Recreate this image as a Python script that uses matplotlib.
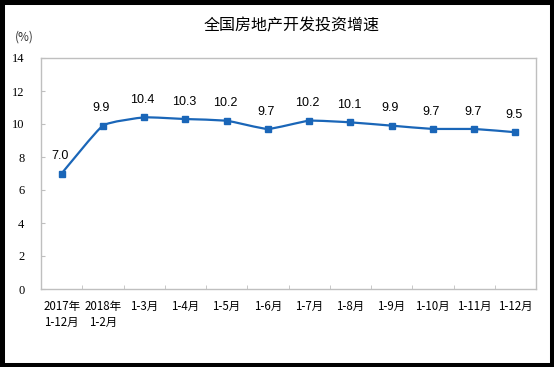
"""
plot.py — national real-estate development investment growth, cumulative YoY.

Renders out.png (554x367) as a single lightly smoothed line chart with labels.
"""
import matplotlib
matplotlib.use("Agg")
import matplotlib.pyplot as plt
from matplotlib.path import Path
from matplotlib.patches import PathPatch, Rectangle

# ── data ────────────────────────────────────────────────────────────────
PERIODS = [
    "2017年\n1-12月", "2018年\n1-2月", "1-3月", "1-4月", "1-5月", "1-6月",
    "1-7月", "1-8月", "1-9月", "1-10月", "1-11月", "1-12月",
]
GROWTH = [7.0, 9.9, 10.4, 10.3, 10.2, 9.7, 10.2, 10.1, 9.9, 9.7, 9.7, 9.5]
Y_TICKS = [0, 2, 4, 6, 8, 10, 12, 14]

TITLE = "全国房地产开发投资增速"
UNIT = "(%)"

LINE_COLOR = "#1a66b8"
AXIS_GRAY = "#bfbfbf"
CJK = ["Noto Sans CJK SC", "DejaVu Sans"]
TENSION = 1 / 14   # mild smoothing, Catmull-Rom style


def smooth_path(xs, ys):
    """Lightly smoothed line: Catmull-Rom segments as cubic Beziers."""
    pts = list(zip(xs, ys))
    verts = [pts[0]]
    codes = [Path.MOVETO]
    n = len(pts)
    for i in range(n - 1):
        p0 = pts[i - 1] if i > 0 else pts[i]
        p1, p2 = pts[i], pts[i + 1]
        p3 = pts[i + 2] if i + 2 < n else pts[i + 1]
        c1 = (p1[0] + (p2[0] - p0[0]) * TENSION,
              p1[1] + (p2[1] - p0[1]) * TENSION)
        c2 = (p2[0] - (p3[0] - p1[0]) * TENSION,
              p2[1] - (p3[1] - p1[1]) * TENSION)
        verts += [c1, c2, p2]
        codes += [Path.CURVE4] * 3
    return Path(verts, codes)


fig = plt.figure(figsize=(5.54, 3.67), dpi=100)
fig.patch.set_facecolor("white")
W, H = 554, 367
ax = fig.add_axes([41 / W, (H - 289) / H, (536 - 41) / W, (289 - 58) / H])

x = list(range(len(PERIODS)))

# line + square markers
ax.add_patch(PathPatch(smooth_path(x, GROWTH), fill=False,
                       edgecolor=LINE_COLOR, linewidth=1.6, zorder=3))
ax.plot(x, GROWTH, linestyle="none", marker="s", markersize=5,
        color=LINE_COLOR, zorder=4)

for xi, v in zip(x, GROWTH):
    ax.annotate(f"{v:.1f}", (xi, v), xytext=(-1, 12.5),
                textcoords="offset points", ha="center", va="center",
                fontsize=9, family="Liberation Sans", color="black")

ax.set_xlim(-0.5, len(PERIODS) - 0.5)
ax.set_ylim(0, 14)
ax.set_yticks(Y_TICKS)
ax.set_yticklabels([str(t) for t in Y_TICKS], family="Liberation Serif",
                   fontsize=9)

ax.set_xticks(x)
ax.set_xticklabels(PERIODS, family=CJK, fontsize=8.3, linespacing=1.25)
ax.set_xticks([i + 0.5 for i in x[:-1]], minor=True)

ax.tick_params(axis="x", which="major", length=0, pad=8)
ax.tick_params(axis="x", which="minor", direction="in", length=3,
               color=AXIS_GRAY)
ax.tick_params(axis="y", direction="in", length=3, color=AXIS_GRAY, pad=12)

for sp in ax.spines.values():
    sp.set_color(AXIS_GRAY)
    sp.set_linewidth(1.0)

fig.text(292 / W, 1 - 26 / H, TITLE, ha="center", va="center",
         fontsize=11.5, family=CJK)
fig.text(24 / W, 1 - 37 / H, UNIT, ha="center", va="center",
         fontsize=8.5, family=CJK, color="#333333")

# black picture frame
fig.add_artist(Rectangle((0, 0), 1, 1, transform=fig.transFigure,
                         fill=False, edgecolor="black", linewidth=6.5))

fig.savefig("out.png", dpi=100)
